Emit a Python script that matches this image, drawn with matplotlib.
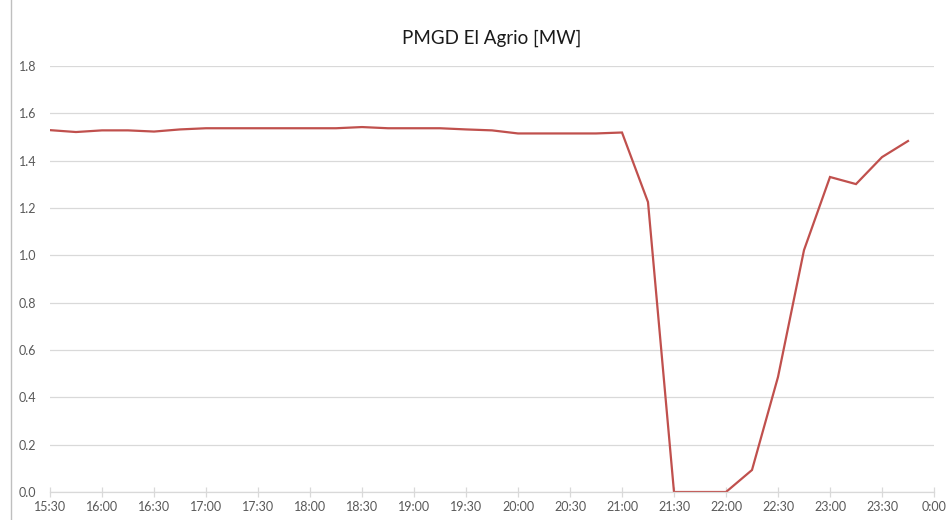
import matplotlib.pyplot as plt
from matplotlib.lines import Line2D

plt.rcParams['font.family'] = ['Lato', 'DejaVu Sans']

# 15-minute samples, 15:30 .. 23:45
times = ['15:30', '15:45', '16:00', '16:15', '16:30', '16:45', '17:00', '17:15',
         '17:30', '17:45', '18:00', '18:15', '18:30', '18:45', '19:00', '19:15',
         '19:30', '19:45', '20:00', '20:15', '20:30', '20:45', '21:00', '21:15',
         '21:30', '21:45', '22:00', '22:15', '22:30', '22:45', '23:00', '23:15',
         '23:30', '23:45']
power_mw = [1.529, 1.521, 1.528, 1.528, 1.523, 1.532, 1.537, 1.537,
            1.537, 1.537, 1.537, 1.537, 1.542, 1.537, 1.537, 1.537,
            1.532, 1.528, 1.515, 1.515, 1.515, 1.515, 1.519, 1.225,
            0.0, 0.0, 0.0, 0.093, 0.486, 1.022, 1.331, 1.301,
            1.415, 1.483]
tick_labels = ['15:30', '16:00', '16:30', '17:00', '17:30', '18:00', '18:30',
               '19:00', '19:30', '20:00', '20:30', '21:00', '21:30', '22:00',
               '22:30', '23:00', '23:30', '0:00']


def to_hours(s):
    h, m = s.split(':')
    h = int(h)
    if h == 0:
        h = 24
    return h + int(m) / 60


x = [to_hours(t) for t in times]
xt = [to_hours(t) for t in tick_labels]

fig = plt.figure(figsize=(9.5, 5.2), dpi=100)
ax = fig.add_axes([50 / 950, 1 - 492 / 520, 884 / 950, 426 / 520])

ax.plot(x, power_mw, color='#C0504D', linewidth=1.6, solid_joinstyle='miter')

ax.set_xlim(xt[0], xt[-1])
ax.set_ylim(0, 1.8)
ax.set_yticks([0.0, 0.2, 0.4, 0.6, 0.8, 1.0, 1.2, 1.4, 1.6, 1.8])
ax.set_yticklabels(['0.0', '0.2', '0.4', '0.6', '0.8', '1.0', '1.2', '1.4', '1.6', '1.8'])
ax.set_xticks(xt)
ax.set_xticklabels(tick_labels)

ax.grid(axis='y', color='#D9D9D9', linewidth=0.9)
ax.set_axisbelow(True)
for side in ['top', 'right', 'left']:
    ax.spines[side].set_visible(False)
ax.spines['bottom'].set_color('#D9D9D9')
ax.spines['bottom'].set_linewidth(0.9)

ax.tick_params(axis='y', length=0, pad=10, labelsize=9, labelcolor='#595959')
ax.tick_params(axis='x', direction='inout', length=7, color='#D9D9D9', width=0.9,
               pad=3, labelsize=9, labelcolor='#595959')

ax.set_title('PMGD El Agrio [MW]', fontsize=13.5, color='#1a1a1a', pad=16)

# left edge of the chart frame
fig.add_artist(Line2D([11 / 950, 11 / 950], [0, 1], transform=fig.transFigure,
                      color='#BFBFBF', linewidth=1))

fig.savefig('out.png', dpi=100)
